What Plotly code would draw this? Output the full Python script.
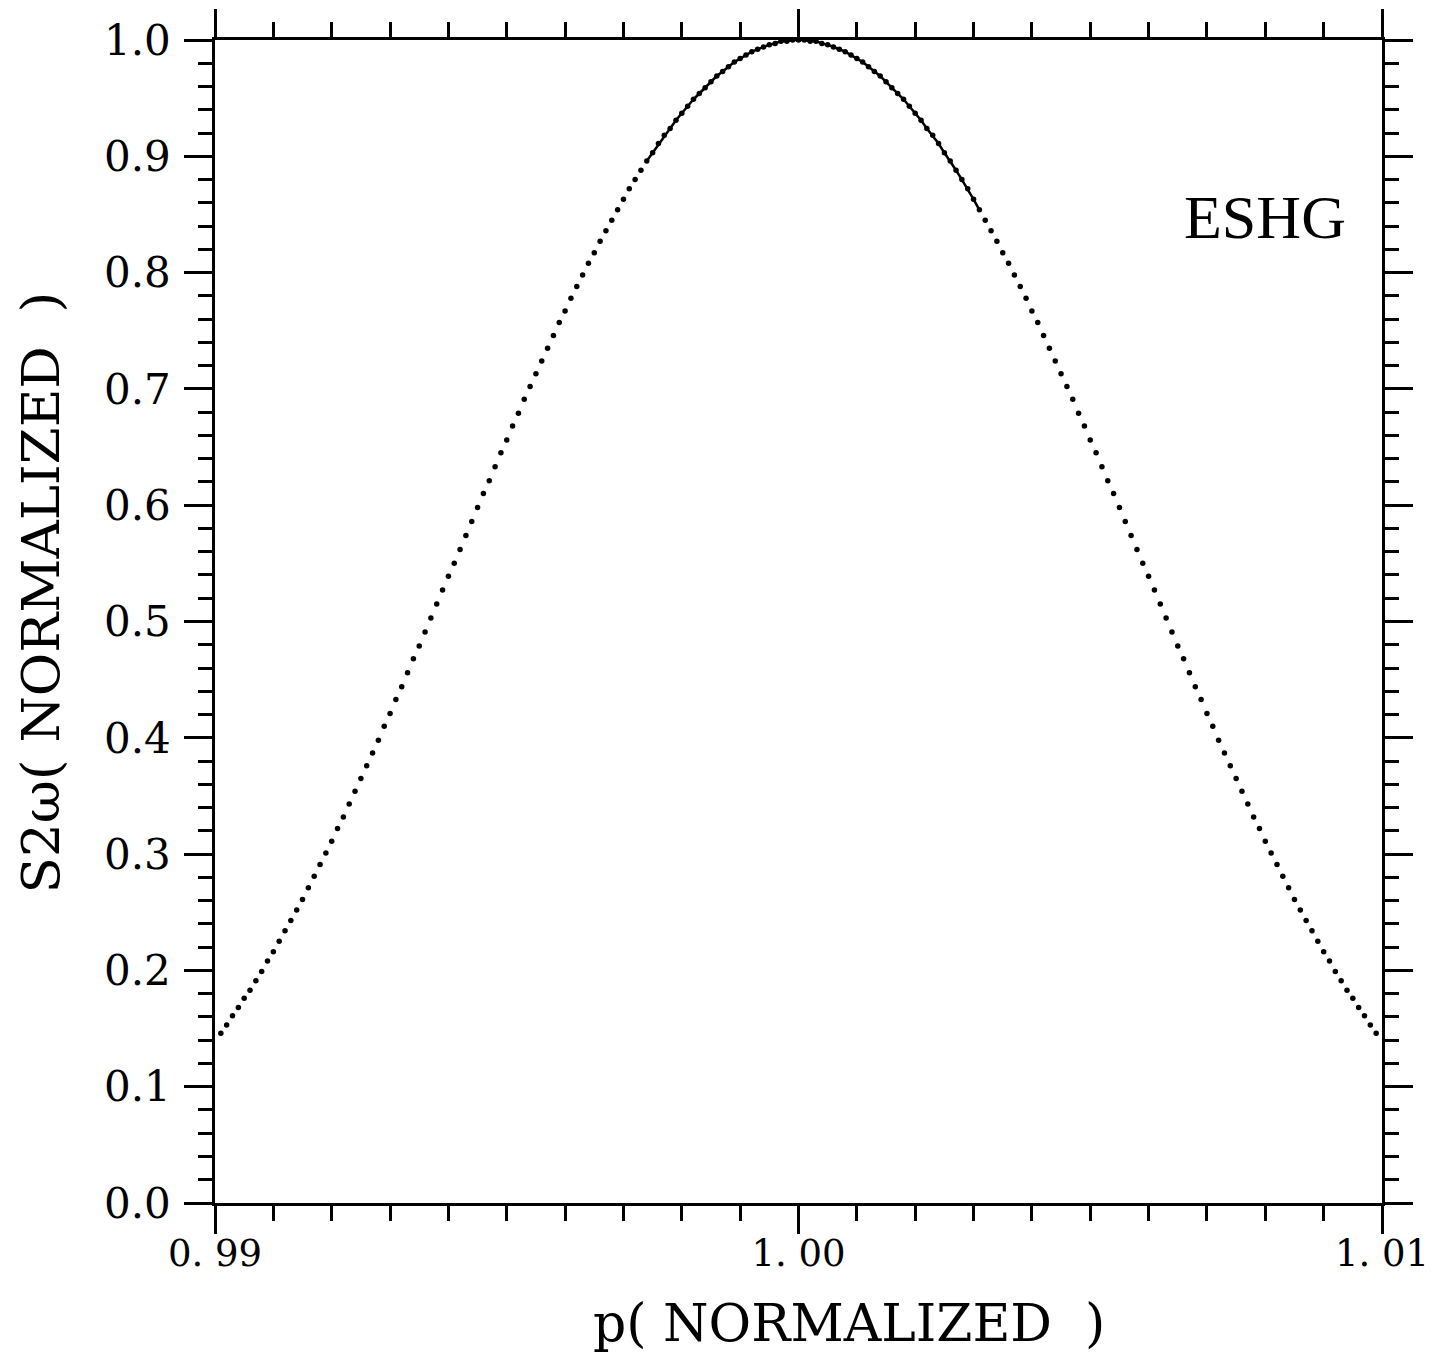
import numpy as np
import plotly.graph_objects as go

# Sample positions p (normalized), step 1e-4 from 0.9901 to 1.0099
p_values = np.round(np.linspace(0.9901, 1.0099, 199), 4)

# S2w (normalized), left to right
s_values = [
    0.146, 0.153, 0.161, 0.168, 0.176, 0.183, 0.191, 0.199, 0.208, 0.216,
    0.225, 0.234, 0.243, 0.252, 0.261, 0.271, 0.281, 0.291, 0.301, 0.311,
    0.322, 0.332, 0.343, 0.354, 0.365, 0.376, 0.387, 0.398, 0.410, 0.421,
    0.433, 0.444, 0.456, 0.468, 0.479, 0.491, 0.503, 0.515, 0.527, 0.539,
    0.550, 0.562, 0.574, 0.586, 0.598, 0.610, 0.621, 0.633, 0.645, 0.656,
    0.668, 0.679, 0.691, 0.702, 0.713, 0.724, 0.735, 0.746, 0.757, 0.767,
    0.778, 0.788, 0.798, 0.808, 0.817, 0.827, 0.836, 0.845, 0.854, 0.863,
    0.872, 0.880, 0.888, 0.896, 0.903, 0.911, 0.918, 0.924, 0.931, 0.937,
    0.943, 0.949, 0.954, 0.959, 0.964, 0.969, 0.973, 0.977, 0.981, 0.984,
    0.987, 0.990, 0.992, 0.994, 0.996, 0.997, 0.999, 0.999, 1.000,
    1.000,
    1.000, 0.999, 0.999, 0.997, 0.996, 0.994, 0.992, 0.990, 0.987, 0.984,
    0.981, 0.977, 0.973, 0.969, 0.964, 0.959, 0.954, 0.949, 0.943, 0.937,
    0.931, 0.924, 0.918, 0.911, 0.903, 0.896, 0.888, 0.880, 0.872, 0.863,
    0.854, 0.845, 0.836, 0.827, 0.817, 0.808, 0.798, 0.788, 0.778, 0.767,
    0.757, 0.746, 0.735, 0.724, 0.713, 0.702, 0.691, 0.679, 0.668, 0.656,
    0.645, 0.633, 0.621, 0.610, 0.598, 0.586, 0.574, 0.562, 0.550, 0.539,
    0.527, 0.515, 0.503, 0.491, 0.479, 0.468, 0.456, 0.444, 0.433, 0.421,
    0.410, 0.398, 0.387, 0.376, 0.365, 0.354, 0.343, 0.332, 0.322, 0.311,
    0.301, 0.291, 0.281, 0.271, 0.261, 0.252, 0.243, 0.234, 0.225, 0.216,
    0.208, 0.199, 0.191, 0.183, 0.176, 0.168, 0.161, 0.153, 0.146,
]

# Solid-line portion near the peak (p range where the trace is continuous)
solid_start, solid_end = 0.9974, 1.0031

x_tickvals = [0.99, 1.00, 1.01]
x_ticktext = ["0. 99", "1. 00", "1. 01"]
y_tickvals = [0.0, 0.1, 0.2, 0.3, 0.4, 0.5, 0.6, 0.7, 0.8, 0.9, 1.0]
y_ticktext = ["0.0", "0.1", "0.2", "0.3", "0.4", "0.5", "0.6", "0.7", "0.8", "0.9", "1.0"]

FONT = "DejaVu Serif"
TEXTFONT = "Liberation Serif"

fig = go.Figure()
fig.add_trace(go.Scatter(
    x=p_values, y=s_values, mode="markers",
    marker=dict(color="black", size=5.5),
    cliponaxis=False, showlegend=False,
))
mask = [(solid_start <= p <= solid_end) for p in p_values]
fig.add_trace(go.Scatter(
    x=[p for p, m in zip(p_values, mask) if m],
    y=[s for s, m in zip(s_values, mask) if m],
    mode="lines", line=dict(color="black", width=2.5),
    cliponaxis=False, showlegend=False,
))

axis_common = dict(
    showgrid=False, zeroline=False, showline=True, linecolor="black", linewidth=2.5,
    mirror="allticks", ticks="outside", tickcolor="black", tickwidth=2.5,
    automargin=False,
)

fig.update_xaxes(
    range=[0.99, 1.01], tickvals=x_tickvals, ticktext=x_ticktext, ticklen=28,
    ticklabelstandoff=-12,
    tickfont=dict(family=FONT, size=37, color="black"),
    minor=dict(ticks="outside", tick0=0.99, dtick=0.001, ticklen=15,
               tickwidth=2.5, tickcolor="black", showgrid=False),
    **axis_common,
)
fig.update_yaxes(
    range=[0.0, 1.0], tickvals=y_tickvals, ticktext=y_ticktext, ticklen=28,
    ticklabelstandoff=5,
    tickfont=dict(family=FONT, size=42, color="black"),
    minor=dict(ticks="outside", tick0=0.0, dtick=0.02, ticklen=14,
               tickwidth=2.5, tickcolor="black", showgrid=False),
    **axis_common,
)

fig.add_annotation(
    text="p( NORMALIZED  )", xref="paper", yref="paper",
    x=0.543, y=-0.1035, xanchor="center", yanchor="middle", showarrow=False,
    font=dict(family=FONT, size=52, color="black"),
)
fig.add_annotation(
    text="S2ω( NORMALIZED  )", xref="paper", yref="paper",
    x=-0.150, y=0.525, xanchor="center", yanchor="middle", showarrow=False,
    textangle=-90, font=dict(family=FONT, size=53, color="black"),
)
fig.add_annotation(
    text="ESHG", xref="paper", yref="paper",
    x=0.900, y=0.848, xanchor="center", yanchor="middle",
    showarrow=False, font=dict(family=TEXTFONT, size=62, color="black"),
)

fig.update_layout(
    width=1423, height=1345,
    margin=dict(l=207, r=49, t=32, b=150),
    plot_bgcolor="white", paper_bgcolor="white",
)

fig.write_html("out.html")
